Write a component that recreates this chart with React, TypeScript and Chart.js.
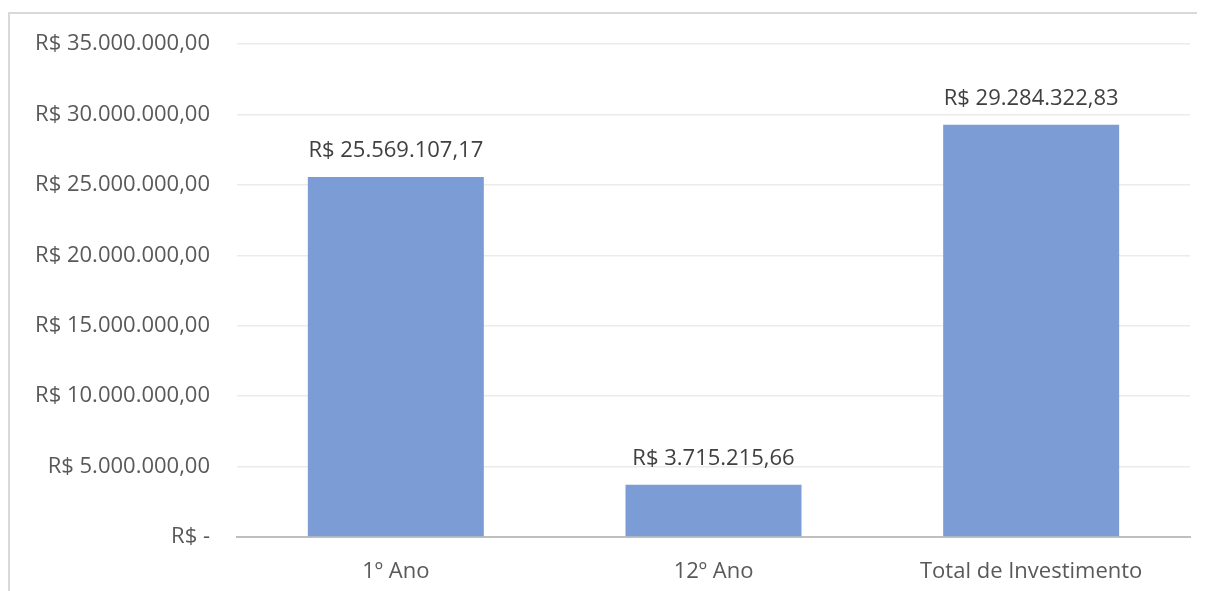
import React, { useEffect, useRef } from "react";
import { Chart, registerables } from "chart.js";

Chart.register(...registerables);

const categories = ["1º Ano", "12º Ano", "Total de Investimento"];
const values = [25569107.17, 3715215.66, 29284322.83];
const yTicks = [0, 5000000, 10000000, 15000000, 20000000, 25000000, 30000000, 35000000];

const FONT = "'Open Sans', 'Noto Sans', sans-serif";
const TEXT = "#595959";
const SIZE = 22;

function fmt(v: number, decimals = 2): string {
  if (v === 0) return "R$ -";
  const fixed = v.toFixed(decimals);
  const [intPart, dec] = fixed.split(".");
  const withDots = intPart.replace(/\B(?=(\d{3})+(?!\d))/g, ".");
  return "R$ " + withDots + "," + dec;
}

const labelPlugin = {
  id: "barLabels",
  afterDatasetsDraw(chart: any) {
    const ctx = chart.ctx;
    const meta = chart.getDatasetMeta(0);
    ctx.save();
    ctx.font = `${SIZE}px ${FONT}`;
    ctx.fillStyle = "#404040";
    ctx.textAlign = "center";
    ctx.textBaseline = "middle";
    meta.data.forEach((bar: any, i: number) => {
      ctx.fillText(fmt(values[i]), bar.x, bar.y - 26);
    });
    ctx.restore();
  },
};

export default function App() {
  const ref = useRef<HTMLCanvasElement>(null);
  useEffect(() => {
    document.documentElement.style.overflow = "hidden";
    const chart = new Chart(ref.current!, {
      type: "bar",
      data: {
        labels: categories,
        datasets: [
          {
            data: values,
            backgroundColor: "#7B9CD4",
            categoryPercentage: 1,
            barPercentage: 0.554,
          },
        ],
      },
      options: {
        animation: false,
        responsive: false,
        layout: { padding: { top: 6, right: 15, left: 0, bottom: 0 } },
        plugins: { legend: { display: false }, tooltip: { enabled: false } },
        scales: {
          x: {
            grid: { display: false, drawTicks: false },
            border: { color: "#BFBFBF", width: 2 },
            ticks: { color: TEXT, font: { family: FONT, size: SIZE }, padding: 22 },
            afterFit(scale: any) {
              scale.height = 57;
            },
          },
          y: {
            min: 0,
            max: 35000000,
            afterBuildTicks(scale: any) {
              scale.ticks = yTicks.map((v) => ({ value: v }));
            },
            grid: { color: "#EBEBEB", lineWidth: 1.5, drawTicks: false },
            border: { display: false },
            ticks: {
              color: TEXT,
              font: { family: FONT, size: SIZE },
              padding: 27,
              callback: (v: any) => fmt(Number(v)),
            },
            afterFit(scale: any) {
              scale.width = 227;
            },
          },
        },
      },
      plugins: [labelPlugin],
    });
    return () => chart.destroy();
  }, []);
  return (
    <div
      style={{
        marginTop: 4,
        width: 1195,
        height: 600,
        border: "2px solid #D9D9D9",
        borderBottom: "none",
        background: "#fff",
      }}
    >
      <canvas
        ref={ref}
        width={1195}
        height={590}
        style={{ display: "block", position: "relative", top: -10 }}
      />
    </div>
  );
}
